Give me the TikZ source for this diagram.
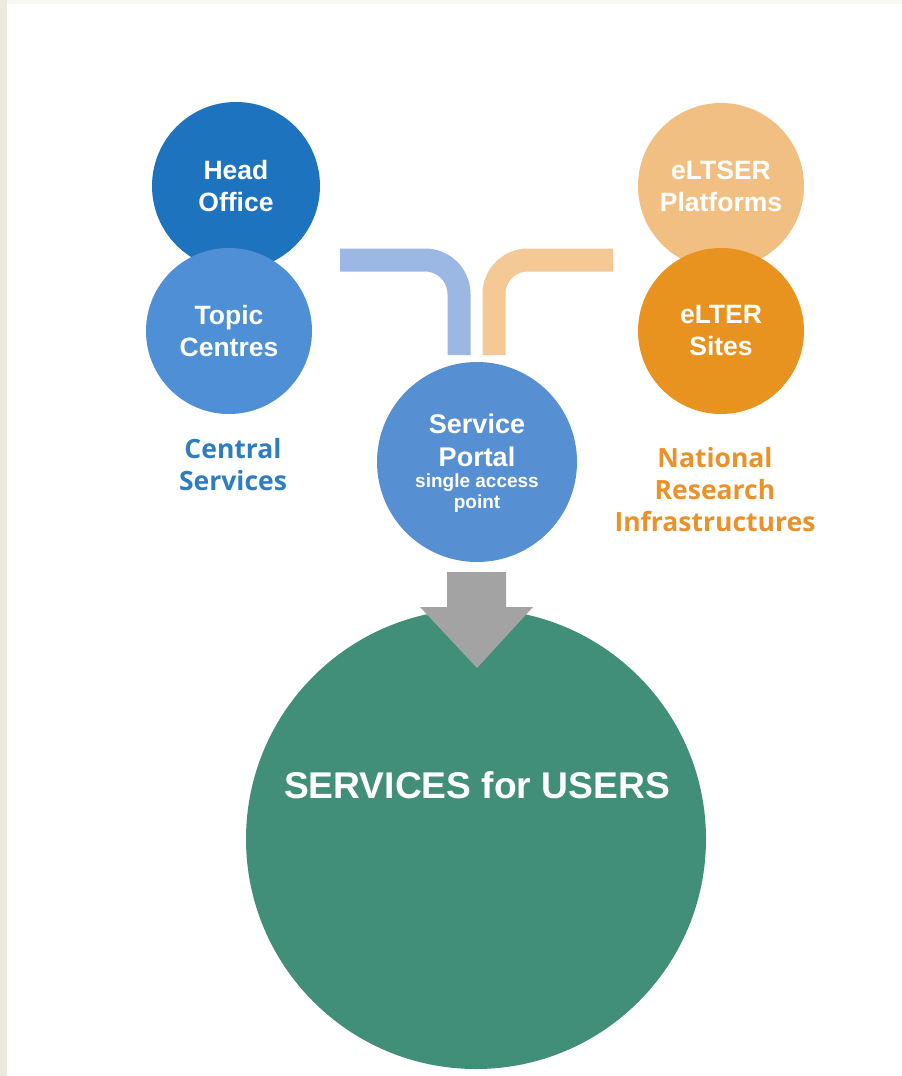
\documentclass[tikz,border=0pt]{standalone}
\usepackage{fontspec}
\setmainfont{Liberation Sans}
\newfontfamily\osans{Open Sans}
\definecolor{headblue}{HTML}{1E73BE}
\definecolor{topicblue}{HTML}{4E8FD5}
\definecolor{portalblue}{HTML}{5690D2}
\definecolor{bandblue}{HTML}{9BB7E4}
\definecolor{bandorange}{HTML}{F5C995}
\definecolor{lightorange}{HTML}{F2BF83}
\definecolor{darkorange}{HTML}{E8931F}
\definecolor{usergreen}{HTML}{418F79}
\definecolor{arrowgray}{HTML}{A3A3A3}
\definecolor{csblue}{HTML}{2E7DC0}
\definecolor{nrorange}{HTML}{E9922A}
\definecolor{strip}{HTML}{ECE9DF}
\definecolor{topstrip}{HTML}{F8F7F4}
\tikzset{
  bubble/.style={circle, draw=none, text=white, align=center, inner sep=0pt,
    font=\fontsize{26.5}{32}\selectfont\bfseries},
  grouplabel/.style={align=center, font=\osans\fontsize{26.5}{32}\selectfont\bfseries},
  band/.style={line width=23pt, rounded corners=34pt},
}
\begin{document}
\begin{tikzpicture}[x=1pt,y=-1pt]
\fill[white] (0,0) rectangle (902,1076);
\fill[topstrip] (0,0) rectangle (902,4);
\fill[strip] (0,0) rectangle (7,1076);
\useasboundingbox (0,0) rectangle (902,1076);

% connector bands
\coordinate (bl) at (340,260);
\coordinate (bb) at (459,355);
\coordinate (or) at (613,260);
\coordinate (ob) at (494,355);
\draw[band, bandblue] (bl) -| (bb);
\draw[band, bandorange] (or) -| (ob);

% left circles
\node[bubble, fill=headblue, minimum size=168pt] (head) at (236,186) {Head\\Office};
\node[bubble, fill=topicblue, minimum size=166pt] (topic) at (229,331) {Topic\\Centres};
% right circles
\node[bubble, fill=lightorange, minimum size=166pt] (eltser) at (721,186) {eLTSER\\Platforms};
\node[bubble, fill=darkorange, minimum size=166pt] (elter) at (721,331) {eLTER\\Sites};

% labels
\node[grouplabel, text=csblue] (central) at (233,465) {Central\\Services};
\node[grouplabel, text=nrorange] (national) at (715,490) {National\\Research\\Infrastructures};

% service portal
\node[circle, fill=portalblue, minimum size=200pt, inner sep=0pt] (portal) at (477,462) {};
\node[text=white, align=center, font=\fontsize{27}{33}\selectfont\bfseries] (ptitle) at (477,440) {Service\\Portal};
\node[text=white, align=center, font=\fontsize{19}{21}\selectfont\bfseries] (psub) at (477,493) {single access\\point};

% users circle
\node[circle, fill=usergreen, minimum size=460pt, inner sep=0pt] (users) at (476,839) {};
\node[text=white, font=\fontsize{37.2}{40}\selectfont\bfseries] (utext) at (477,785) {SERVICES for USERS};

% arrow
\fill[arrowgray] (447,572) -- (506,572) -- (506,607) -- (533,607) -- (477,668) -- (420,607) -- (447,607) -- cycle;
\end{tikzpicture}
\end{document}
